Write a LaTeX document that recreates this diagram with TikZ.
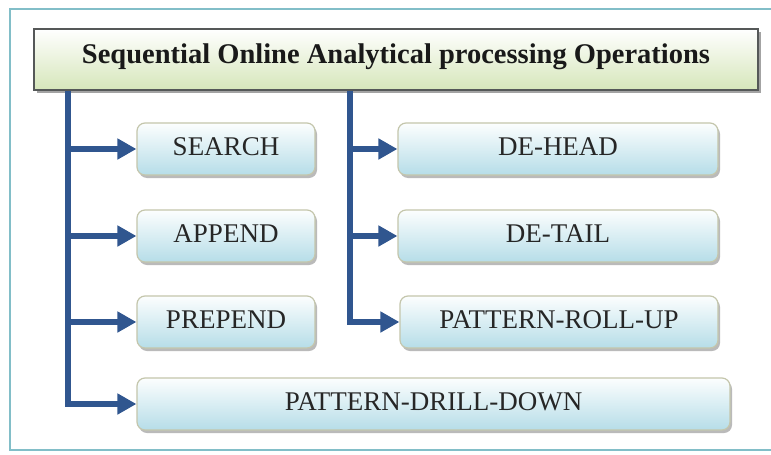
\documentclass[tikz,border=0pt]{standalone}
\usepackage{fontspec}
\setmainfont{Liberation Serif}
\usetikzlibrary{arrows.meta,shadows,calc}

\definecolor{framecol}{RGB}{130,190,200}
\definecolor{connblue}{RGB}{48,86,143}
\definecolor{boxtop}{RGB}{252,254,254}
\definecolor{boxbot}{RGB}{182,221,232}
\definecolor{boxline}{RGB}{196,198,172}
\definecolor{titletop}{RGB}{255,255,255}
\definecolor{titlebot}{RGB}{214,230,186}
\definecolor{titleline}{RGB}{85,88,88}

\tikzset{
  opbox/.style={rounded corners=8pt, draw=boxline, line width=1.2pt,
    top color=boxtop, bottom color=boxbot, minimum height=52pt,
    text height=18pt, text depth=6pt, inner sep=0pt,
    font=\fontsize{27}{30}\selectfont, text=black!85,
    drop shadow={shadow xshift=2pt, shadow yshift=-3pt, opacity=0.45, fill=black!60}},
  titlebox/.style={draw=titleline, line width=1.2pt,
    top color=titletop, bottom color=titlebot,
    minimum width=724pt, minimum height=61pt,
    text height=19pt, text depth=12pt, inner sep=0pt,
    font=\fontsize{28.5}{32}\selectfont\bfseries, text=black!90,
    drop shadow={shadow xshift=3pt, shadow yshift=-3pt, opacity=0.55, fill=black!65}},
  conn/.style={draw=connblue, line width=6pt, line join=miter,
    -{Triangle[length=19pt,width=20pt]}},
}

\begin{document}
\begin{tikzpicture}[x=1pt,y=-1pt]
  \useasboundingbox (0,0) rectangle (771,455);
  % page background and outer frame
  \fill[white] (0,0) rectangle (771,455);
  \begin{scope}
    \clip (0,0) rectangle (771,455);
    \draw[framecol, line width=1.3pt, fill=white] (10,9) rectangle (790,450);
  \end{scope}

  % heading
  \node[titlebox] (title) at (396,59.5) {Sequential Online Analytical processing Operations};

  % left column of operations
  \node[opbox, minimum width=178pt] (search)  at (226,149) {SEARCH};
  \node[opbox, minimum width=178pt] (append)  at (226,236) {APPEND};
  \node[opbox, minimum width=178pt] (prepend) at (226,322) {PREPEND};
  \node[opbox, minimum width=593pt] (drill)   at (433.5,404) {PATTERN-DRILL-DOWN};

  % right column of operations
  \node[opbox, minimum width=320pt] (dehead) at (558,149) {DE-HEAD};
  \node[opbox, minimum width=320pt] (detail) at (558,236) {DE-TAIL};
  \node[opbox, minimum width=318pt] (rollup) at (559,322) {PATTERN-ROLL-UP};

  % trunks leaving the heading
  \coordinate (tl) at (title.south -| 68,0);
  \coordinate (tr) at (title.south -| 350,0);

  % connectors
  \draw[conn] (tl) |- (drill.west);
  \draw[conn] (tl |- search.west)  -- (search.west);
  \draw[conn] (tl |- append.west)  -- (append.west);
  \draw[conn] (tl |- prepend.west) -- (prepend.west);

  \draw[conn] (tr) |- (rollup.west);
  \draw[conn] (tr |- dehead.west)  -- (dehead.west);
  \draw[conn] (tr |- detail.west)  -- (detail.west);
\end{tikzpicture}
\end{document}
